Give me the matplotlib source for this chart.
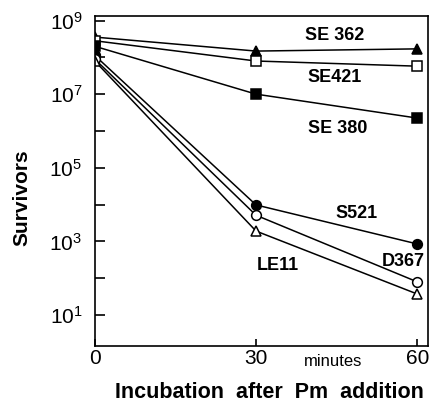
import numpy as np
from matplotlib import pyplot as plt
from matplotlib import rcParams
from matplotlib.ticker import FixedLocator, FixedFormatter

rcParams['font.family'] = ['Liberation Sans Narrow', 'Liberation Sans', 'DejaVu Sans']
rcParams['mathtext.default'] = 'regular'
rcParams['xtick.direction'] = 'in'
rcParams['ytick.direction'] = 'in'

# incubation time (minutes) and log10 survivors for each strain
minutes = [0, 30, 60]
se362 = [8.55, 8.17, 8.23]
se421 = [8.45, 7.90, 7.76]
se380 = [8.30, 7.00, 6.35]
s521 = [8.05, 3.99, 2.93]
d367 = [7.95, 3.71, 1.90]
le11 = [7.90, 3.28, 1.57]

fig = plt.figure(figsize=(4.31, 4.13), dpi=100)
ax = fig.add_axes([0.220, 0.162, 0.773, 0.799])

k = dict(color='black', lw=1.1, ms=7, mew=1.1)
ax.plot(minutes, 10**np.array(se362), marker='^', mfc='black', **k)
ax.plot(minutes, 10**np.array(se421), marker='s', mfc='white', **k)
ax.plot(minutes, 10**np.array(se380), marker='s', mfc='black', **k)
ax.plot(minutes, 10**np.array(s521), marker='o', mfc='black', **k)
ax.plot(minutes, 10**np.array(d367), marker='o', mfc='white', **k)
ax.plot(minutes, 10**np.array(le11), marker='^', mfc='white', **k)

ax.set_yscale('log')
ax.set_xlim(0, 62)
ax.set_ylim(10**0.155, 10**9.12)

ax.yaxis.set_major_locator(FixedLocator([10.0**e for e in [1, 3, 5, 7, 9]]))
ax.yaxis.set_major_formatter(FixedFormatter([r'$10^{%d}$' % e for e in [1, 3, 5, 7, 9]]))
ax.yaxis.set_minor_locator(FixedLocator([10.0**e for e in [2, 4, 6, 8]]))
ax.yaxis.set_minor_formatter(FixedFormatter([]))
ax.tick_params(axis='y', which='major', length=7, width=1.2, labelsize=15, pad=9)
ax.tick_params(axis='y', which='minor', length=7, width=1.2)

ax.set_xticks([0, 30, 60])
ax.set_xticklabels(['0', '30', '60'])
ax.tick_params(axis='x', length=5, width=1.2, labelsize=15, pad=2)

for s in ax.spines.values():
    s.set_linewidth(1.2)

tf = dict(fontsize=13, fontweight='bold', ha='center', va='center', transform=fig.transFigure)
def lab(x, y, t):
    fig.text(x / 431, 1 - y / 413, t, **tf)
lab(335, 35, 'SE 362')
lab(335, 77, 'SE421')
lab(338, 129, 'SE 380')
lab(357, 213, 'S521')
lab(403, 262, 'D367')
lab(278, 265, 'LE11')

fig.text(333 / 431, 1 - 361 / 413, 'minutes', fontsize=12, ha='center', va='center')
fig.text(269 / 431, 1 - 392 / 413, 'Incubation  after  Pm  addition', fontsize=15.5,
         fontweight='bold', ha='center', va='center')
fig.text(22 / 431, 1 - 198 / 413, 'Survivors', fontsize=15, fontweight='bold',
         rotation=90, ha='center', va='center')

plt.savefig('out.png')
